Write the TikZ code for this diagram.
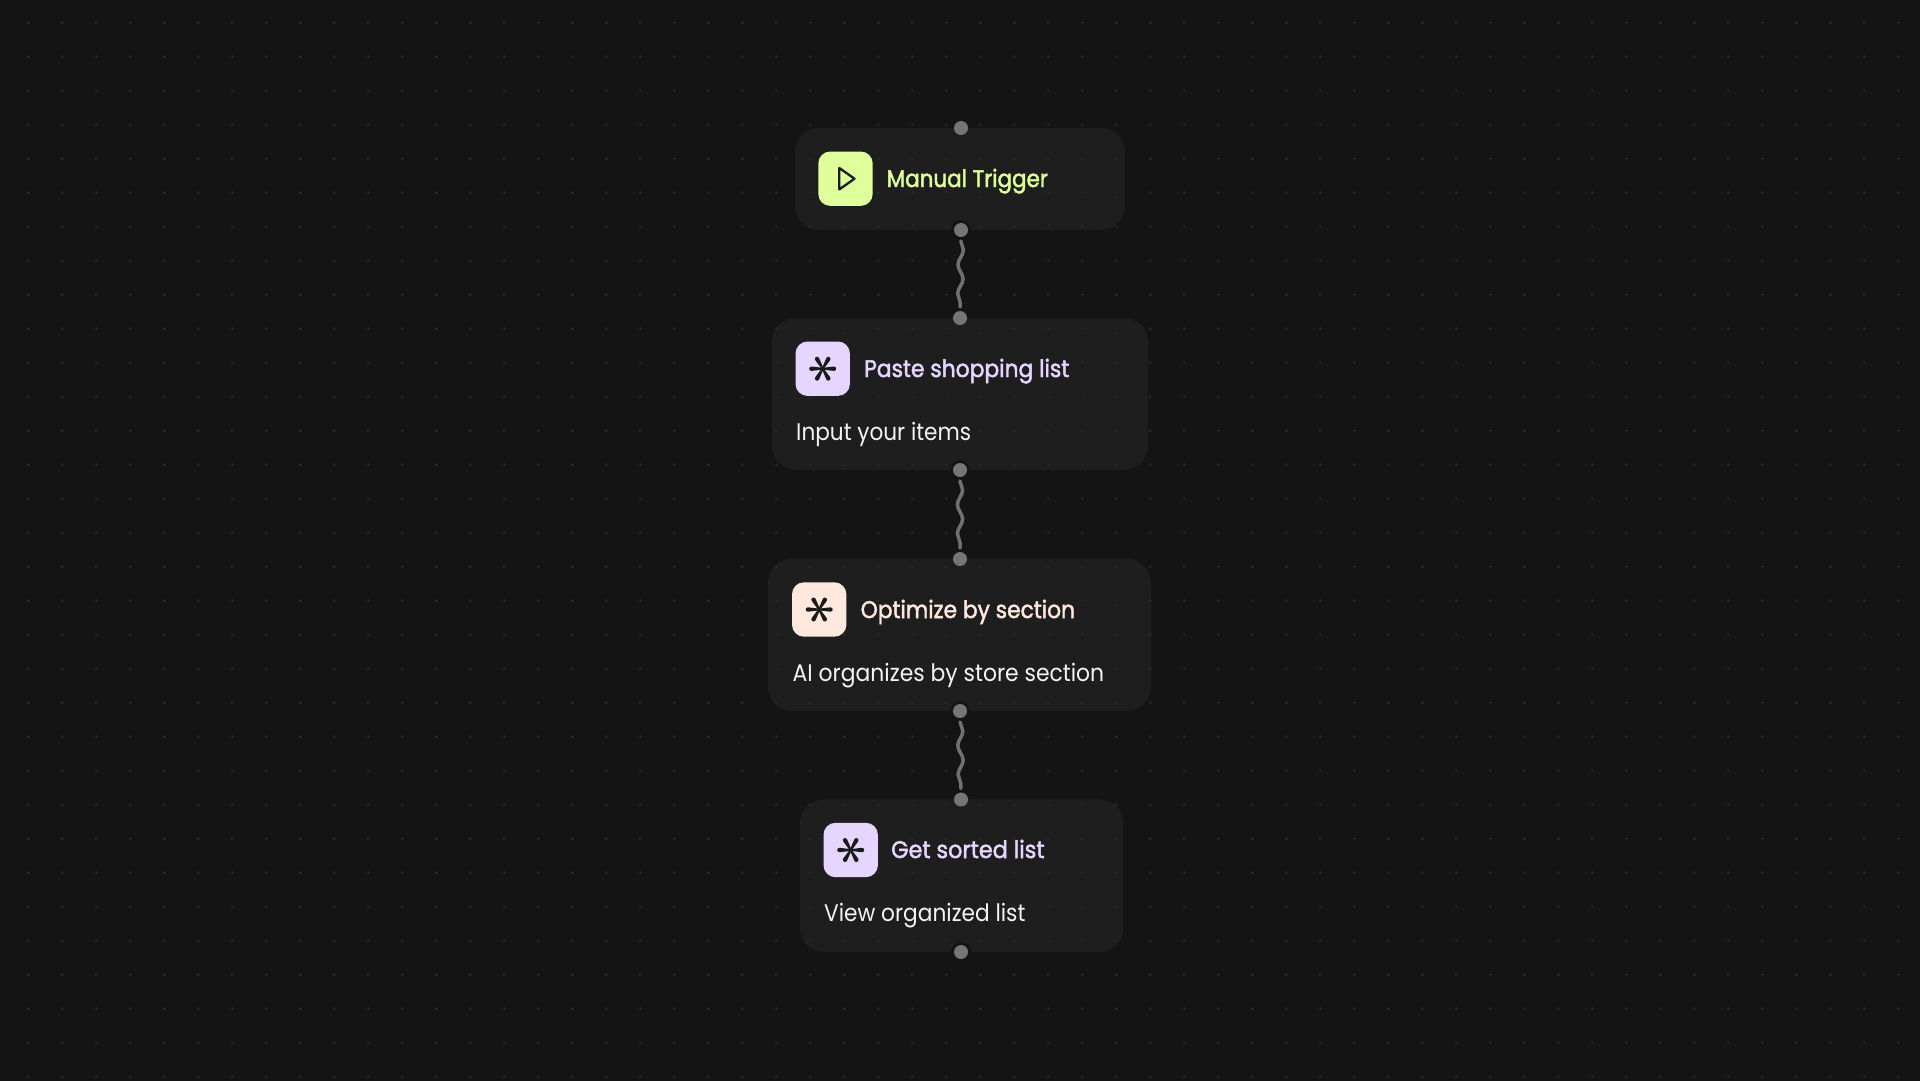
\documentclass[tikz,border=0pt]{standalone}
\usepackage{fontspec}
\usetikzlibrary{decorations.pathmorphing}
\setmainfont{Poppins}
\newfontfamily\titlefont[FakeBold=2]{Poppins}
\definecolor{bgc}{HTML}{141414}
\definecolor{cardc}{HTML}{1E1E1E}
\definecolor{gridc}{HTML}{282828}
\definecolor{portc}{HTML}{757575}
\definecolor{wirec}{HTML}{707070}
\definecolor{inkc}{HTML}{1A1A1A}
\definecolor{limec}{HTML}{DEFF9A}
\definecolor{lilac}{HTML}{E6D6FF}
\definecolor{peach}{HTML}{FFE9DE}
\definecolor{bodyc}{HTML}{F4F4F4}
\newcommand{\sx}[2]{\scalebox{#1}[1]{#2}}
\tikzset{
  x=1pt,y=-1pt,
  card/.style={fill=cardc,rounded corners=24pt,inner sep=0pt,outer sep=0pt,draw=none},
  iconbox/.style={fill=#1,rounded corners=12pt,minimum width=54.4pt,minimum height=54.4pt,inner sep=0pt,outer sep=0pt},
  titletext/.style={anchor=base west,inner sep=0pt,font=\titlefont\fontsize{24}{28}\selectfont,text=#1},
  bodytext/.style={anchor=base west,inner sep=0pt,font=\fontsize{24}{28}\selectfont,text=bodyc},
  port/.style={circle,fill=portc,minimum size=14pt,inner sep=0pt,outer sep=4pt},
  halo/.style={circle,fill=bgc,minimum size=20pt,inner sep=0pt,outer sep=0pt},
  wire/.style={draw=wirec,line width=3.5pt,line cap=round,decorate,decoration={snake,amplitude=2.6pt,segment length=29pt}},
}
\newcommand{\spark}[1]{%
  \foreach \a in {0,60,...,300}{
    \fill[inkc,shift={(#1)},rotate=\a,yscale=-1]
      (0,-0.9) -- (11.3,-2.2) arc[start angle=-90,end angle=90,radius=2.2] -- (0,0.9) -- cycle;
  }%
}
\begin{document}
\begin{tikzpicture}
\useasboundingbox (0,0) rectangle (1920,1080);
\fill[bgc] (-3,-3) rectangle (1923,1083);
% cards
\node[card,minimum width=330pt,minimum height=102pt] (card1) at (960,179) {};
\node[card,minimum width=376pt,minimum height=152pt] (card2) at (960,394) {};
\node[card,minimum width=383pt,minimum height=152pt] (card3) at (959.5,635) {};
\node[card,minimum width=323.5pt,minimum height=152.5pt] (card4) at (961.7,875.7) {};
% dot grid
\foreach \i in {0,...,56}{\foreach \j in {0,...,31}{
  \fill[gridc] ({28.3+34*\i},{22.7+34*\j}) circle[radius=1.6];
}}
% icons
\node[iconbox=limec] (icon1) at (845.5,178.7) {};
\node[iconbox=lilac] (icon2) at (822.7,368.7) {};
\node[iconbox=peach] (icon3) at (819.2,609.5) {};
\node[iconbox=lilac] (icon4) at (850.7,850) {};
\draw[inkc,line width=2.3pt,line join=round] (839.3,168) -- (854.5,178.7) -- (839.3,189.4) -- cycle;
\spark{icon2}
\spark{icon3}
\spark{icon4}
% text
\node[titletext=limec] (t1) at (886.5,187) {\sx{.894}{Manual Trigger}};
\node[titletext=lilac] (t2) at (864,377) {\sx{.91}{Paste shopping list}};
\node[bodytext] (d2) at (796,440) {\sx{.90}{Input your items}};
\node[titletext=peach] (t3) at (860.5,618) {\sx{.908}{Optimize by section}};
\node[bodytext] (d3) at (792.5,681) {\sx{.912}{AI organizes by store section}};
\node[titletext=lilac] (t4) at (891,858) {\sx{.93}{Get sorted list}};
\node[bodytext] (d4) at (824,921) {\sx{.904}{View organized list}};
% ports
\node[halo] at (961,230) {};
\node[halo] at (960,470) {};
\node[halo] at (960,711) {};
\node[halo] at (961,952) {};
\node[port] (p1t) at (961,128) {};
\node[port] (p1b) at (961,230) {};
\node[port] (p2t) at (960,318) {};
\node[port] (p2b) at (960,470) {};
\node[port] (p3t) at (960,559) {};
\node[port] (p3b) at (960,711) {};
\node[port] (p4t) at (961,799.5) {};
\node[port] (p4b) at (961,952) {};
% connectors
\draw[wire] (p1b) -- (p2t);
\draw[wire] (p2b) -- (p3t);
\draw[wire] (p3b) -- (p4t);
\end{tikzpicture}
\end{document}
